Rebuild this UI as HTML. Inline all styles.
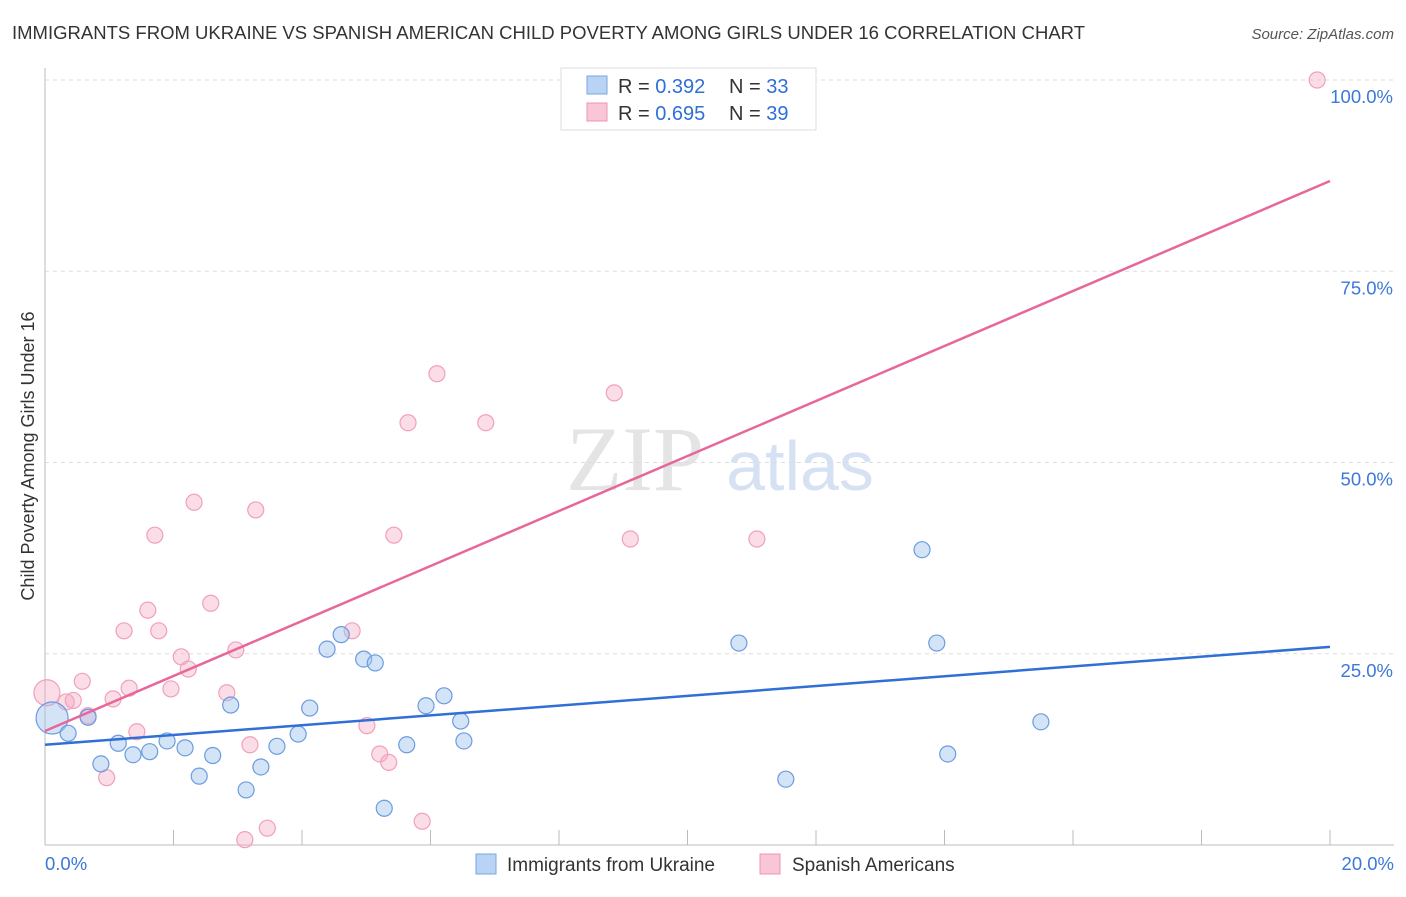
<!DOCTYPE html>
<html><head><meta charset="utf-8"><style>
body{margin:0;background:#fff;font-family:"Liberation Sans",sans-serif}
</style></head><body>
<svg id="c" width="1406" height="892" xmlns="http://www.w3.org/2000/svg">
<text x="12" y="39" font-size="18.5" fill="#333" textLength="1073">IMMIGRANTS FROM UKRAINE VS SPANISH AMERICAN CHILD POVERTY AMONG GIRLS UNDER 16 CORRELATION CHART</text>
<text x="1394" y="39" font-size="15" fill="#555" text-anchor="end" font-style="italic">Source: ZipAtlas.com</text>
<text x="34" y="456" font-size="18" fill="#333" text-anchor="middle" transform="rotate(-90 34 456)">Child Poverty Among Girls Under 16</text>
<g><text x="635" y="490" font-size="92" fill="#e4e4e4" font-family="Liberation Serif,serif" text-anchor="middle">ZIP</text><text x="800" y="490" font-size="70" fill="#d6e2f3" text-anchor="middle">atlas</text></g>
<g id="grid"></g><g id="axes"></g><g id="pts"></g><g id="lines"></g>
<g>
<rect x="561" y="68" width="255" height="62" fill="#fff" stroke="#ddd"/>
<rect x="587" y="76" width="20" height="18" fill="#b9d3f5" stroke="#7aa6e0"/>
<rect x="587" y="103" width="20" height="18" fill="#f9c6d6" stroke="#ee94b2"/>
<text x="618" y="93" font-size="20" fill="#333">R = <tspan fill="#2f6fd6">0.392</tspan></text>
<text x="729" y="93" font-size="20" fill="#333">N = <tspan fill="#2f6fd6">33</tspan></text>
<text x="618" y="120" font-size="20" fill="#333">R = <tspan fill="#2f6fd6">0.695</tspan></text>
<text x="729" y="120" font-size="20" fill="#333">N = <tspan fill="#2f6fd6">39</tspan></text>
</g>
<g>
<rect x="476" y="854" width="20" height="20" fill="#b9d3f5" stroke="#7aa6e0"/>
<text x="507" y="871" font-size="19" fill="#333">Immigrants from Ukraine</text>
<rect x="760" y="854" width="20" height="20" fill="#f9c6d6" stroke="#ee94b2"/>
<text x="792" y="871" font-size="19" fill="#333">Spanish Americans</text>
</g>
</svg>
<script>
const yTicks=[25,50,75,100];
const yTickLabels=["25.0%","50.0%","75.0%","100.0%"];
const xTicks=[2,4,6,8,10,12,14,16,18,20];
const blueX=[0.11,0.36,0.67,0.87,1.14,1.37,1.63,1.90,2.18,2.40,2.61,2.89,3.13,3.36,3.61,3.94,4.12,4.39,4.61,4.96,5.14,5.28,5.63,5.93,6.21,6.47,6.52,10.80,11.53,13.65,13.88,14.05,15.50];
const blueY=[16.6,14.6,16.7,10.6,13.3,11.8,12.2,13.6,12.7,9.0,11.7,18.3,7.2,10.2,12.9,14.5,17.9,25.6,27.5,24.3,23.8,4.8,13.1,18.2,19.5,16.2,13.6,26.4,8.6,38.6,26.4,11.9,16.1];
const pinkX=[0.03,0.33,0.44,0.58,0.67,0.96,1.06,1.31,1.43,1.60,1.71,1.23,1.77,1.96,2.12,2.23,2.32,2.58,2.83,2.97,3.11,3.19,3.28,3.46,4.78,5.01,5.21,5.35,5.43,5.65,5.87,6.10,6.86,8.86,9.11,11.08,19.80];
const pinkY=[19.9,18.7,18.9,21.4,16.9,8.8,19.1,20.5,14.8,30.7,40.5,28.0,28.0,20.4,24.6,23.0,44.8,31.6,19.9,25.5,0.7,13.1,43.8,2.2,28.0,15.6,11.9,10.8,40.5,55.2,3.1,61.6,55.2,59.1,40.0,40.0,100];
const blueTrend=[13.1,25.9];
const pinkTrend=[14.9,86.8];
const NS="http://www.w3.org/2000/svg";
const sx=v=>45+v/20*1285, sy=v=>845-v/100*765;
function mk(t,a,p){const e=document.createElementNS(NS,t);for(const k in a)e.setAttribute(k,a[k]);document.getElementById(p).appendChild(e);return e;}
yTicks.forEach((t,i)=>{
 const l=mk('line',{x1:45,x2:1394,y1:sy(t),y2:sy(t),stroke:'#ddd','stroke-dasharray':'4,4'},'grid');
 
 
 const tx=mk('text',{x:1393,y:sy(t)+23,'font-size':18.5,fill:'#3b78d8','text-anchor':'end'},'grid');
 tx.textContent=yTickLabels[i];
 
 
});
const ax=mk('line',{x1:45,x2:45,y1:68,y2:845,stroke:'#bbb'},'axes');


const bx=mk('line',{x1:45,x2:1394,y1:845,y2:845,stroke:'#bbb'},'axes');


xTicks.forEach(t=>{const l=mk('line',{x1:sx(t),x2:sx(t),y1:830,y2:845,stroke:'#bbb'},'axes');
 
 });
const x0=mk('text',{x:45,y:870,'font-size':18.5,fill:'#3b78d8'},'axes');x0.textContent='0.0%';


const x1=mk('text',{x:1394,y:870,'font-size':18.5,fill:'#3b78d8','text-anchor':'end'},'axes');x1.textContent='20.0%';


pinkX.forEach((x,i)=>{const c=mk('circle',{cx:sx(x),cy:sy(pinkY[i]),r:i==0?13:8,fill:'rgba(246,170,196,0.4)',stroke:'#f0a0bb','stroke-width':1.2},'pts');
 
 });
blueX.forEach((x,i)=>{const c=mk('circle',{cx:sx(x),cy:sy(blueY[i]),r:i==0?16:8,fill:'rgba(160,196,238,0.45)',stroke:'#6b9be0','stroke-width':1.2},'pts');
 
 });
const bl=mk('line',{x1:sx(0),y1:sy(blueTrend[0]),x2:sx(20),y2:sy(blueTrend[1]),stroke:'#2f6fd6','stroke-width':2.5},'lines');


const pl=mk('line',{x1:sx(0),y1:sy(pinkTrend[0]),x2:sx(20),y2:sy(pinkTrend[1]),stroke:'#e8679a','stroke-width':2.5},'lines');


</script>
</body></html>
